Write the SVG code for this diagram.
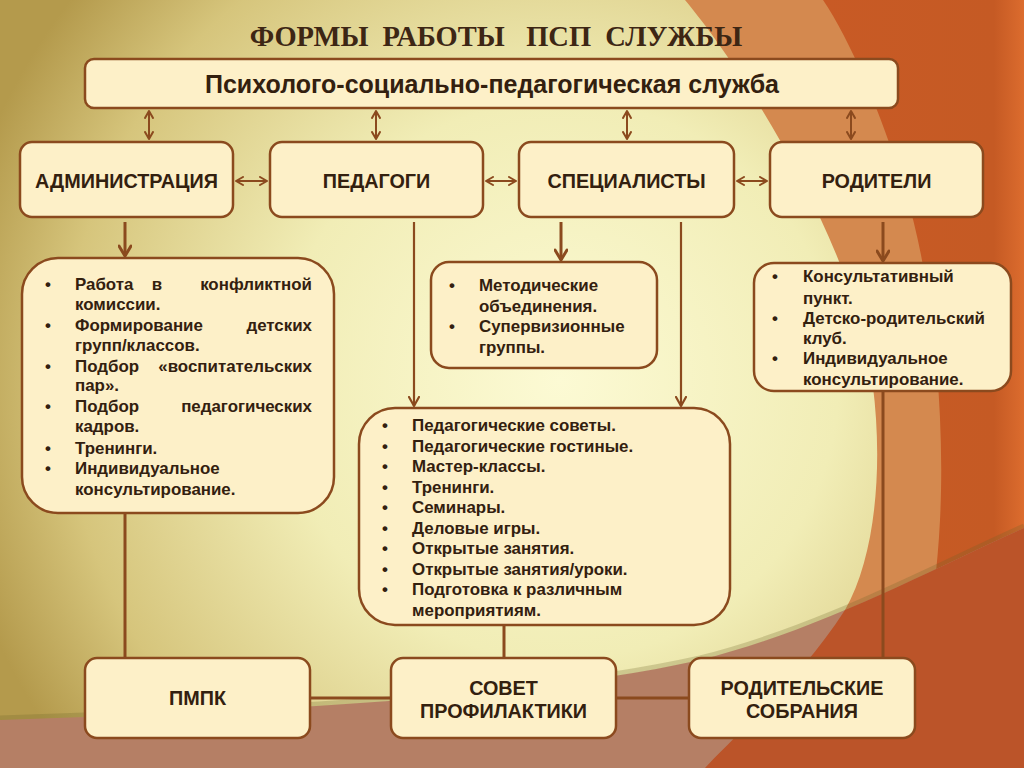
<svg xmlns="http://www.w3.org/2000/svg" width="1024" height="768" viewBox="0 0 1024 768">
<defs>
  <radialGradient id="bgGrad" cx="560" cy="380" r="620" gradientUnits="userSpaceOnUse">
    <stop offset="0" stop-color="#fcfad4"/>
    <stop offset="0.45" stop-color="#f1edb6"/>
    <stop offset="0.8" stop-color="#d6c57c"/>
    <stop offset="1" stop-color="#b49a4c"/>
  </radialGradient>
  <linearGradient id="darkGrad" x1="0" y1="0" x2="1" y2="0">
    <stop offset="0" stop-color="#c85a25"/>
    <stop offset="0.85" stop-color="#c55a24"/>
    <stop offset="1" stop-color="#dc6c2e"/>
  </linearGradient>
  <clipPath id="bandClip">
    <path d="M0,720 C250,712 520,700 700,660 C820,630 930,570 1024,528 L1024,768 L0,768 Z"/>
  </clipPath>
  <marker id="ah" viewBox="0 0 10 10" refX="8.5" refY="5" markerWidth="10" markerHeight="10" markerUnits="userSpaceOnUse" orient="auto-start-reverse">
    <path d="M1.5,1 L8.5,5 L1.5,9" fill="none" stroke="#8b4a1e" stroke-width="2" stroke-linecap="round" stroke-linejoin="round"/>
  </marker>
  <marker id="ahBig" viewBox="0 0 14 14" refX="12" refY="7" markerWidth="14" markerHeight="14" markerUnits="userSpaceOnUse" orient="auto">
    <path d="M2,1 L12,7 L2,13" fill="none" stroke="#8b4a1e" stroke-width="3" stroke-linecap="round" stroke-linejoin="round"/>
  </marker>
  <marker id="ahThin" viewBox="0 0 12 12" refX="10.5" refY="6" markerWidth="12" markerHeight="12" markerUnits="userSpaceOnUse" orient="auto">
    <path d="M1.5,1 L10.5,6 L1.5,11" fill="none" stroke="#8b4a1e" stroke-width="2.2" stroke-linecap="round" stroke-linejoin="round"/>
  </marker>
</defs>
<style>
  .box { fill: #fdf0c8; stroke: #8b4a1e; stroke-width: 2.5; }
  .conn { fill: none; stroke: #8b4a1e; stroke-width: 3; }
  .thin { fill: none; stroke: #8b4a1e; stroke-width: 2.2; }
  .dbl { fill: none; stroke: #8b4a1e; stroke-width: 2; marker-start: url(#ah); marker-end: url(#ah); }
  .head { font-family: "Liberation Sans", Arial, sans-serif; font-weight: bold; font-size: 19.8px; fill: #33200f; text-anchor: middle; }
  .list { font-family: "Liberation Sans", Arial, sans-serif; font-weight: bold; font-size: 16.9px; fill: #33200f; }
  .end { text-anchor: end; }
  .mid { text-anchor: middle; }
</style>

<g id="background">
  <rect x="0" y="0" width="1024" height="768" fill="url(#bgGrad)"/>
  <path d="M685,0 C735,60 820,190 860,320 C885,410 885,540 845,610 C800,680 740,730 705,768 L1024,768 L1024,0 Z" fill="#d4894f"/>
  <path d="M823,0 C850,40 880,110 905,190 C935,290 945,420 940,520 C935,620 915,700 900,768 L1024,768 L1024,0 Z" fill="url(#darkGrad)"/>
  <path d="M0,718 C250,710 520,698 700,658 C820,628 930,568 1024,526" fill="none" stroke="#6d6228" stroke-opacity="0.25" stroke-width="5"/>
  <g clip-path="url(#bandClip)">
    <rect x="0" y="500" width="1024" height="268" fill="#b57f65"/>
    <path d="M685,0 C735,60 820,190 860,320 C885,410 885,540 845,610 C800,680 740,730 705,768 L1024,768 L1024,0 Z" fill="#bb5429"/>
  </g>
</g>

<text x="496" y="46" font-family="Liberation Serif, 'Times New Roman', serif" font-weight="bold" font-size="28.5" fill="#3d2614" text-anchor="middle" xml:space="preserve">ФОРМЫ  РАБОТЫ   ПСП  СЛУЖБЫ</text>

<g id="connectors">
  <line class="dbl" x1="149" y1="111" x2="149" y2="139"/>
  <line class="dbl" x1="376" y1="111" x2="376" y2="139"/>
  <line class="dbl" x1="627" y1="111" x2="627" y2="139"/>
  <line class="dbl" x1="851" y1="111" x2="851" y2="139"/>
  <line class="dbl" x1="236" y1="181" x2="267" y2="181"/>
  <line class="dbl" x1="486" y1="181" x2="516" y2="181"/>
  <line class="dbl" x1="737" y1="181" x2="767" y2="181"/>
  <line class="conn" x1="125" y1="222" x2="125" y2="256" marker-end="url(#ahBig)"/>
  <line class="thin" x1="414" y1="222" x2="414" y2="406" marker-end="url(#ahThin)"/>
  <line class="conn" x1="561" y1="222" x2="561" y2="260" marker-end="url(#ahBig)"/>
  <line class="thin" x1="681" y1="222" x2="681" y2="406" marker-end="url(#ahThin)"/>
  <line class="conn" x1="883" y1="222" x2="883" y2="261" marker-end="url(#ahBig)"/>
  <line class="conn" x1="125" y1="513" x2="125" y2="658"/>
  <line class="conn" x1="504" y1="625" x2="504" y2="658"/>
  <line class="conn" x1="883" y1="391" x2="883" y2="658"/>
  <line class="conn" x1="310" y1="698" x2="391" y2="698"/>
  <line class="conn" x1="616" y1="698" x2="689" y2="698"/>
</g>

<g id="node-psp">
  <rect class="box" x="85" y="59" width="813" height="49" rx="9"/>
  <text x="492" y="93" font-family="Liberation Sans, Arial, sans-serif" font-weight="bold" font-size="25" fill="#33200f" text-anchor="middle">Психолого-социально-педагогическая служба</text>
</g>

<g id="node-admin">
  <rect class="box" x="20" y="142" width="213" height="75" rx="12"/>
  <text class="head" x="126.5" y="188">АДМИНИСТРАЦИЯ</text>
</g>
<g id="node-pedagogi">
  <rect class="box" x="270" y="142" width="213" height="75" rx="12"/>
  <text class="head" x="376.5" y="188">ПЕДАГОГИ</text>
</g>
<g id="node-spec">
  <rect class="box" x="519" y="142" width="215" height="75" rx="12"/>
  <text class="head" x="626.5" y="188">СПЕЦИАЛИСТЫ</text>
</g>
<g id="node-roditeli">
  <rect class="box" x="770" y="142" width="213" height="75" rx="12"/>
  <text class="head" x="876.5" y="188">РОДИТЕЛИ</text>
</g>

<g id="node-admin-list">
  <rect class="box" x="22" y="258" width="312" height="255" rx="36"/>
  <g class="list">
    <text x="45" y="290">•</text>
    <text x="75" y="290">Работа</text>
    <text class="mid" x="157" y="290">в</text>
    <text class="end" x="312" y="290">конфликтной</text>
    <text x="75" y="310">комиссии.</text>
    <text x="45" y="331">•</text>
    <text x="75" y="331">Формирование</text>
    <text class="end" x="312" y="331">детских</text>
    <text x="75" y="351">групп/классов.</text>
    <text x="45" y="372">•</text>
    <text x="75" y="372">Подбор</text>
    <text class="end" x="312" y="372">«воспитательских</text>
    <text x="75" y="391">пар».</text>
    <text x="45" y="412">•</text>
    <text x="75" y="412">Подбор</text>
    <text class="end" x="312" y="412">педагогических</text>
    <text x="75" y="432">кадров.</text>
    <text x="45" y="454">•</text>
    <text x="75" y="454">Тренинги.</text>
    <text x="45" y="474">•</text>
    <text x="75" y="474">Индивидуальное</text>
    <text x="75" y="495">консультирование.</text>
  </g>
</g>

<g id="node-spec-list">
  <rect class="box" x="431" y="262" width="226" height="106" rx="18"/>
  <g class="list">
    <text x="449" y="291">•</text>
    <text x="479" y="291">Методические</text>
    <text x="479" y="312">объединения.</text>
    <text x="449" y="332">•</text>
    <text x="479" y="332">Супервизионные</text>
    <text x="479" y="353">группы.</text>
  </g>
</g>

<g id="node-ped-list">
  <rect class="box" x="359" y="408" width="371" height="217" rx="36"/>
  <g class="list">
    <text x="382" y="431">•</text><text x="412" y="431">Педагогические советы.</text>
    <text x="382" y="452">•</text><text x="412" y="452">Педагогические гостиные.</text>
    <text x="382" y="472">•</text><text x="412" y="472">Мастер-классы.</text>
    <text x="382" y="493">•</text><text x="412" y="493">Тренинги.</text>
    <text x="382" y="513">•</text><text x="412" y="513">Семинары.</text>
    <text x="382" y="534">•</text><text x="412" y="534">Деловые игры.</text>
    <text x="382" y="554">•</text><text x="412" y="554">Открытые занятия.</text>
    <text x="382" y="575">•</text><text x="412" y="575">Открытые занятия/уроки.</text>
    <text x="382" y="595">•</text><text x="412" y="595">Подготовка к различным</text>
    <text x="412" y="616">мероприятиям.</text>
  </g>
</g>

<g id="node-parents-list">
  <rect class="box" x="754" y="263" width="257" height="128" rx="20"/>
  <g class="list">
    <text x="772" y="282">•</text><text x="803" y="282">Консультативный</text>
    <text x="803" y="304">пункт.</text>
    <text x="772" y="324">•</text><text x="803" y="324">Детско-родительский</text>
    <text x="803" y="344">клуб.</text>
    <text x="772" y="364">•</text><text x="803" y="364">Индивидуальное</text>
    <text x="803" y="385">консультирование.</text>
  </g>
</g>

<g id="node-pmpk">
  <rect class="box" x="85" y="658" width="225" height="80" rx="12"/>
  <text class="head" x="197.5" y="705">ПМПК</text>
</g>
<g id="node-sovet">
  <rect class="box" x="391" y="658" width="225" height="80" rx="12"/>
  <text class="head" x="503.5" y="695">СОВЕТ</text>
  <text class="head" x="503.5" y="718">ПРОФИЛАКТИКИ</text>
</g>
<g id="node-rod-sobr">
  <rect class="box" x="689" y="658" width="226" height="80" rx="12"/>
  <text class="head" x="802" y="695">РОДИТЕЛЬСКИЕ</text>
  <text class="head" x="802" y="718">СОБРАНИЯ</text>
</g>
</svg>
